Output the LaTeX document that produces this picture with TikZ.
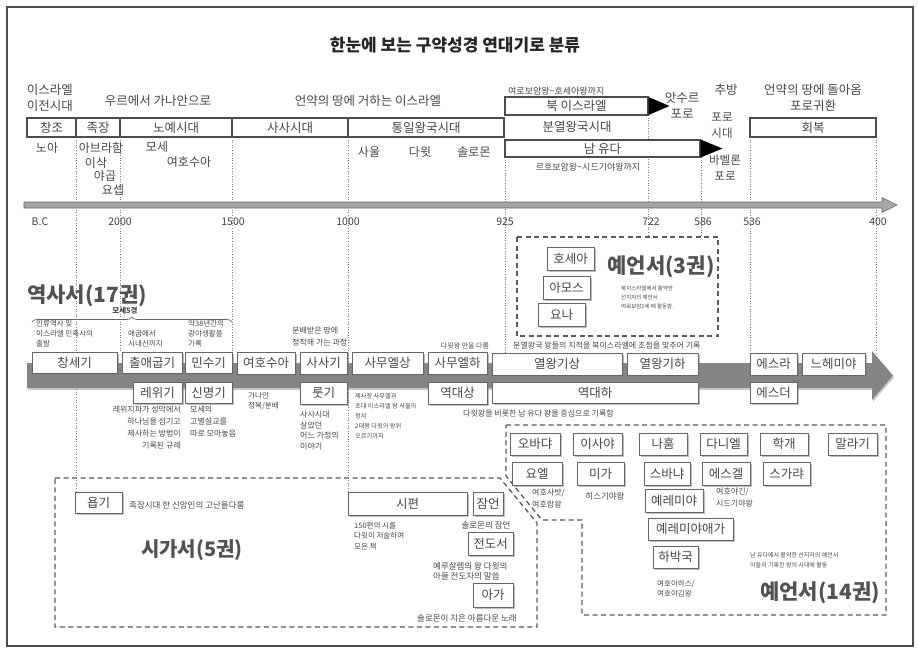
\documentclass[tikz,border=0pt]{standalone}
\usepackage{fontspec}
\setmainfont{Noto Sans CJK KR}
\usetikzlibrary{shadows,decorations.pathreplacing}
\definecolor{txt}{gray}{0.28}
\definecolor{bd}{gray}{0.40}
\definecolor{band}{gray}{0.52}
\newcommand\mkbox[7][book]{\node[#1, minimum width={#5-#3}, minimum height={#6-#4}] (#2) at ({(#3+#5)/2},{(#4+#6)/2}) {#7};}
\begin{document}
\begin{tikzpicture}[x=1pt,y=-1pt,
  book/.style={draw=bd, line width=0.7pt, fill=white, inner sep=0pt, text=txt,
    font=\fontsize{12.5}{14}\selectfont,
    drop shadow={shadow xshift=1.6pt, shadow yshift=-1.8pt, fill=black!50, opacity=0.5}},
  period/.style={draw=black!70, line width=1.1pt, fill=white, inner sep=0pt, text=txt,
    font=\fontsize{12.5}{14}\selectfont},
  lbl/.style={text=txt, inner sep=0pt, font=\fontsize{12.5}{16}\selectfont, align=center},
  nm/.style={text=txt, inner sep=0pt, font=\fontsize{12}{14}\selectfont},
  tiny/.style={text=txt, inner sep=0pt, font=\fontsize{8}{11}\selectfont},
  tinyl/.style={tiny, align=left, anchor=north west},
  big/.style={text=black!68, inner sep=0pt, font=\fontsize{21}{24}\selectfont\bfseries},
  tick/.style={text=black!75, inner sep=0pt, font=\fontsize{10.5}{12}\selectfont},
  vdot/.style={gray, line width=0.8pt, dash pattern=on 1pt off 1.6pt},
  dbox/.style={black!65, line width=1.3pt, dash pattern=on 5pt off 3.5pt}]
\useasboundingbox (0,0) rectangle (918,653);
% frame
\draw[black!70, line width=1.2pt] (7,7) rectangle (913,646);
% title
\node[inner sep=0pt, text=black!85, font=\fontsize{17}{20}\selectfont\bfseries] (title) at (455,45) {한눈에 보는 구약성경 연대기로 분류};

% vertical dotted lines
\coordinate (v1a) at (76,137);  \coordinate (v1b) at (76,492);
\coordinate (v2a) at (120,137); \coordinate (v2b) at (120,352);
\coordinate (v3a) at (232,137); \coordinate (v3b) at (232,352);
\coordinate (v4a) at (348,137); \coordinate (v4b) at (348,492);
\coordinate (v5a) at (505,157); \coordinate (v5b) at (505,353);
\coordinate (v6a) at (648,115); \coordinate (v6b) at (648,237);
\coordinate (v7a) at (701,157); \coordinate (v7b) at (701,237);
\coordinate (v8a) at (750,137); \coordinate (v8b) at (750,353);
\coordinate (v9a) at (876,137); \coordinate (v9b) at (876,353);
\foreach \i in {1,...,9} {\draw[vdot] (v\i a) -- (v\i b);}

% top labels
\node[lbl] (pre) at (50,98) {이스라엘\\이전시대};
\node[lbl] (ur) at (158,101) {우르에서 가나안으로};
\node[lbl] (covenant) at (368,101) {언약의 땅에 거하는 이스라엘};
\node[tiny, font=\fontsize{9}{11}\selectfont, anchor=west] (jero) at (508,91) {여로보암왕\textasciitilde 호세아왕까지};
\node[lbl] (assy) at (682,105) {앗수르\\포로};
\node[lbl] (exile) at (726,90) {추방};
\node[lbl] (ret) at (813,98) {언약의 땅에 돌아옴\\포로귀환};
\node[lbl] (divk) at (577,127) {분열왕국시대};
\node[lbl, font=\fontsize{11.5}{16}\selectfont] (capt) at (722,126) {포로\\시대};
\node[tiny, font=\fontsize{9}{11}\selectfont] (reho) at (588,167) {르호보암왕\textasciitilde 시드기야왕까지};
\node[lbl, font=\fontsize{11.5}{16}\selectfont] (baby) at (725,168) {바벨론\\포로};

% period boxes
\mkbox[period]{p1}{27}{118}{76}{137}{창조}
\mkbox[period]{p2}{76}{118}{120}{137}{족장}
\mkbox[period]{p3}{120}{118}{232}{137}{노예시대}
\mkbox[period]{p4}{232}{118}{348}{137}{사사시대}
\mkbox[period]{p5}{348}{118}{504}{137}{통일왕국시대}
\mkbox[period]{p6}{750}{118}{876}{137}{회복}
\mkbox[period]{north}{505}{97}{648}{115}{북 이스라엘}
\mkbox[period]{south}{505}{140}{700}{157}{남 유다}
\fill[black] (north.east) ++(0,-9) -- ++(21,9) -- ++(-21,9) -- cycle;
\fill[black] (south.east) ++(0,-9) -- ++(22,9) -- ++(-22,9) -- cycle;

% people
\node[nm] (noah) at (47,148) {노아};
\node[nm] (abr) at (101,148) {아브라함};
\node[nm] (isaac) at (96,163) {이삭};
\node[nm] (jacob) at (105,176) {야곱};
\node[nm] (joseph) at (113,190) {요셉};
\node[nm] (moses) at (157,147) {모세};
\node[nm] (joshua) at (189,162) {여호수아};
\node[nm] (saul) at (369,152) {사울};
\node[nm] (david) at (420,152) {다윗};
\node[nm] (solomon) at (474,152) {솔로몬};

% time axis
\draw[draw=black!60, fill=black!35, line width=0.6pt] (24,202) -- (882,202) -- (882,197.5) -- (897,205) -- (882,212.5) -- (882,208) -- (24,208) -- cycle;
\node[tick] (bc) at (40,222) {B.C};
\node[tick] (t2000) at (120,222) {2000};
\node[tick] (t1500) at (233,222) {1500};
\node[tick] (t1000) at (348,222) {1000};
\node[tick] (t925) at (505,222) {925};
\node[tick] (t722) at (651,222) {722};
\node[tick] (t586) at (703,222) {586};
\node[tick] (t536) at (752,222) {536};
\node[tick] (t400) at (878,222) {400};

% prophets (3)
\draw[dbox] (517,237) rectangle (718,336);
\mkbox{hosea}{547}{247}{594}{270}{호세아}
\mkbox{amos}{543}{276}{590}{299}{아모스}
\mkbox{jonah}{538}{303}{585}{326}{요나}
\node[big] (pro3) at (661,267) {예언서(3권)};
\node[tinyl, font=\fontsize{5.5}{8.8}\selectfont] (pro3t) at (621,286) {북이스라엘에서 활약한\\선지자의 예언서\\여로보암2세 때 활동함.};

% history books
\node[big, anchor=west] (hist) at (27,296) {역사서(17권)};
\node[tiny, font=\fontsize{7.5}{9}\selectfont\bfseries] (penta) at (125,311) {모세5경};
\draw[black!60, line width=0.7pt, decorate, decoration={brace, amplitude=5pt}] (32,322) -- (232,322);
\fill[band, drop shadow={shadow xshift=1pt, shadow yshift=-2pt, fill=black!50, opacity=0.4}] (27,363) -- (872,363) -- (872,351) -- (893,375.5) -- (872,400) -- (872,388) -- (27,388) -- cycle;
\mkbox{gen}{32}{352}{117}{373}{창세기}
\mkbox{exo}{122}{352}{182}{373}{출애굽기}
\mkbox{num}{185}{352}{232}{373}{민수기}
\mkbox{lev}{133}{382}{182}{403}{레위기}
\mkbox{deu}{185}{382}{232}{403}{신명기}
\mkbox{jos}{237}{352}{295}{374}{여호수아}
\mkbox{jdg}{300}{352}{347}{374}{사사기}
\mkbox{rut}{300}{382}{347}{404}{룻기}
\mkbox{sa1}{352}{352}{423}{374}{사무엘상}
\mkbox{sa2}{428}{352}{487}{374}{사무엘하}
\mkbox{ch1}{428}{382}{487}{404}{역대상}
\mkbox{ki1}{492}{353}{622}{375}{열왕기상}
\mkbox{ki2}{627}{353}{698}{375}{열왕기하}
\mkbox{ch2}{492}{382}{698}{403}{역대하}
\mkbox{ezr}{750}{353}{797}{375}{에스라}
\mkbox{neh}{802}{353}{865}{375}{느헤미야}
\mkbox{est}{750}{382}{797}{403}{에스더}

\node[tinyl, font=\fontsize{7.5}{10}\selectfont] (gent) at (36,320) {인류역사 및\\이스라엘 민족사의\\출발};
\node[tinyl, font=\fontsize{7.5}{10}\selectfont] (exot) at (128,330) {애굽에서\\시내산까지};
\node[tinyl, font=\fontsize{7.5}{10}\selectfont] (numt) at (188,320) {약38년간의\\광야생활을\\기록};
\node[tiny, align=right, anchor=north east, font=\fontsize{8}{12}\selectfont] (levt) at (181,406) {레위지파가 성막에서\\하나님을 섬기고\\제사하는 방법이\\기록된 규례};
\node[tinyl, font=\fontsize{8}{12}\selectfont] (deut) at (190,406) {모세의\\고별설교를\\따로 모아놓음};
\node[tinyl, font=\fontsize{7.5}{10}\selectfont] (jost) at (248,392) {가나안\\정복/분배};
\node[tinyl, font=\fontsize{8}{12}\selectfont] (jdgt) at (292,327) {분배받은 땅에\\정착해 가는 과정};
\node[tinyl, font=\fontsize{8}{10.5}\selectfont] (rutt) at (300,411) {사사시대\\살았던\\어느 가정의\\이야기};
\node[tinyl, font=\fontsize{6.2}{10}\selectfont] (sa1t) at (355,393) {제사장 사무엘과\\초대 이스라엘 왕 사울의\\정치\\2대왕 다윗의 왕위\\오르기까지};
\node[tiny, font=\fontsize{7}{9}\selectfont] (sa2t) at (465,346) {다윗왕 만을 다룸};
\node[tiny, anchor=west] (kit) at (513,346) {분열왕국 왕들의 치적을 북이스라엘에 초점을 맞추어 기록};
\node[tiny, anchor=west] (cht) at (463,413) {다윗왕을 비롯한 남 유다 왕을 중심으로 기록함};

% poetry
\draw[dbox] (55,478) -- (500,478) -- (537,523) -- (537,627) -- (55,627) -- cycle;
\mkbox{job}{75}{492}{122}{513}{욥기}
\node[tiny, anchor=west, font=\fontsize{8.5}{10}\selectfont] (jobt) at (129,505) {족장시대 한 신앙인의 고난을다룸};
\node[big, font=\fontsize{20}{23}\selectfont\bfseries] (poet) at (192,550) {시가서(5권)};
\mkbox{psa}{348}{492}{467}{515}{시편}
\mkbox{pro}{473}{492}{503}{515}{잠언}
\mkbox{ecc}{468}{532}{513}{555}{전도서}
\mkbox{sng}{473}{583}{513}{607}{아가}
\node[tinyl, font=\fontsize{7.5}{10.5}\selectfont] (psat) at (354,522) {150편의 시를\\다윗이 저술하여\\모은 책};
\node[tiny, font=\fontsize{8.5}{10}\selectfont] (prot) at (486,525) {솔로몬의 잠언};
\node[tinyl, font=\fontsize{8.5}{10}\selectfont] (ecct) at (433,562) {예루살렘의 왕 다윗의\\아들 전도자의 말씀};
\node[tiny, font=\fontsize{8.5}{10}\selectfont] (sngt) at (467,618) {솔로몬이 지은 아름다운 노래};

% prophets (14)
\draw[dbox] (506,425) -- (886,425) -- (886,615) -- (582,615) -- (582,520) -- (542,520) -- (506,476) -- cycle;
\mkbox{oba}{510}{433}{560}{455}{오바댜}
\mkbox{joe}{512}{462}{562}{485}{요엘}
\mkbox{isa}{573}{433}{622}{455}{이사야}
\mkbox{mic}{577}{462}{624}{485}{미가}
\mkbox{nah}{639}{433}{687}{455}{나훔}
\mkbox{zep}{644}{462}{690}{485}{스바냐}
\mkbox{jer}{645}{489}{703}{512}{예레미야}
\mkbox{lam}{648}{518}{733}{540}{예레미야애가}
\mkbox{hab}{653}{546}{698}{568}{하박국}
\mkbox{dan}{700}{433}{747}{455}{다니엘}
\mkbox{eze}{702}{462}{750}{485}{에스겔}
\mkbox{hag}{760}{433}{808}{455}{학개}
\mkbox{zec}{763}{462}{810}{485}{스가랴}
\mkbox{mal}{828}{433}{877}{455}{말라기}
\node[tinyl, font=\fontsize{8}{12}\selectfont] (joet) at (532,489) {여호사밧/\\여호람왕};
\node[tiny, font=\fontsize{8.5}{10}\selectfont] (mict) at (605,496) {히스기야왕};
\node[tinyl, font=\fontsize{8}{12}\selectfont] (ezet) at (716,488) {여호야긴/\\시드기야왕};
\node[tinyl, font=\fontsize{7.5}{10}\selectfont] (habt) at (657,580) {여호아하스/\\여호야김왕};
\node[tinyl, font=\fontsize{6}{10}\selectfont] (pro14t) at (750,552) {남 유다에서 활약한 선지자의 예언서\\이들이 기록한 왕의 시대에 활동};
\node[big] (pro14) at (820,593) {예언서(14권)};
\end{tikzpicture}
\end{document}
